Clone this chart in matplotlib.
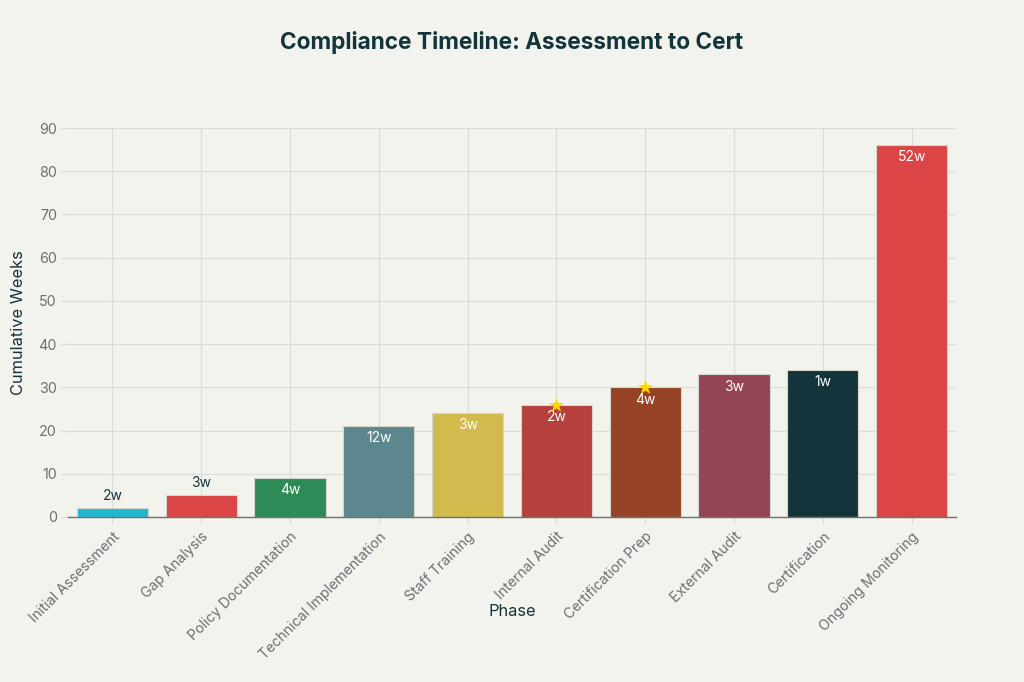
import matplotlib
matplotlib.use("Agg")
import matplotlib.pyplot as plt
import numpy as np

phases = ["Initial Assessment", "Gap Analysis", "Policy Documentation",
          "Technical Implementation", "Staff Training", "Internal Audit",
          "Certification Prep", "External Audit", "Certification",
          "Ongoing Monitoring"]
durations = [2, 3, 4, 12, 3, 2, 4, 3, 1, 52]
cumulative = [2, 5, 9, 21, 24, 26, 30, 33, 34, 86]
labels = ["2w", "3w", "4w", "12w", "3w", "2w", "4w", "3w", "1w", "52w"]
milestones = ["Internal Audit", "Certification Prep"]
colors = ["#1FB8CD", "#DB4545", "#2E8B57", "#5D878F", "#D2BA4C",
          "#B4413C", "#964325", "#944454", "#13343B", "#DB4545"]

plt.rcParams['font.family'] = ['Inter', 'DejaVu Sans']
BG = "#F3F3EE"
DARK = "#13343B"
GRAY = "#6B6F73"

fig = plt.figure(figsize=(10.24, 6.82), dpi=100, facecolor=BG)
ax = fig.add_axes([68/1024, 1-517/682, 888/1024, 389/682], facecolor=BG)

x = np.arange(len(phases))
ax.bar(x, cumulative, width=0.8, color=colors, edgecolor="#D6D6D0",
       linewidth=0.8, zorder=3)

ax.set_xlim(-0.5, len(phases) - 0.5)
ax.set_ylim(0, 90)
ax.set_yticks(np.arange(0, 91, 10))
ax.set_xticks(x)
ax.set_xticklabels(phases, rotation=45, ha="right", rotation_mode="anchor",
                   fontsize=10.2, color=GRAY)
ax.tick_params(axis="y", labelsize=10.3, colors=GRAY, length=5, width=0.8,
               color="#DADAD5", pad=3)
ax.tick_params(axis="x", length=5, width=0.8, color="#DADAD5", pad=4)
for lab in ax.get_yticklabels():
    lab.set_color(GRAY)

ax.grid(True, color="#DCDCD7", linewidth=0.8, zorder=0)
for s in ["top", "right", "left"]:
    ax.spines[s].set_visible(False)
ax.spines["bottom"].set_color("#6B6F73")
ax.spines["bottom"].set_linewidth(1.0)
ax.spines["bottom"].set_zorder(4)

for xi, v, lab in zip(x, cumulative, labels):
    if v >= 8:
        ax.text(xi, v - 1.2, lab, ha="center", va="top", fontsize=10,
                color="white", zorder=5)
    else:
        ax.text(xi, v + 1.2, lab, ha="center", va="bottom", fontsize=10,
                color=DARK, zorder=5)

mx = [phases.index(m) for m in milestones]
my = [cumulative[i] for i in mx]
ax.scatter(mx, my, marker="*", s=130, color="#FFD700", zorder=6,
           linewidths=0)

ax.text(-0.056, 0.5, "Cumulative Weeks", transform=ax.transAxes,
        rotation=90, ha="center", va="center", fontsize=11.8, color=DARK)
ax.text(0.5, -0.244, "Phase", transform=ax.transAxes, ha="center",
        va="center", fontsize=11.8, color=DARK)

fig.text(0.5, 1 - 43/682, "Compliance Timeline: Assessment to Cert",
         ha="center", va="center", fontsize=16.3, fontweight="bold", color=DARK)

fig.savefig("out.png", dpi=100, facecolor=BG)
